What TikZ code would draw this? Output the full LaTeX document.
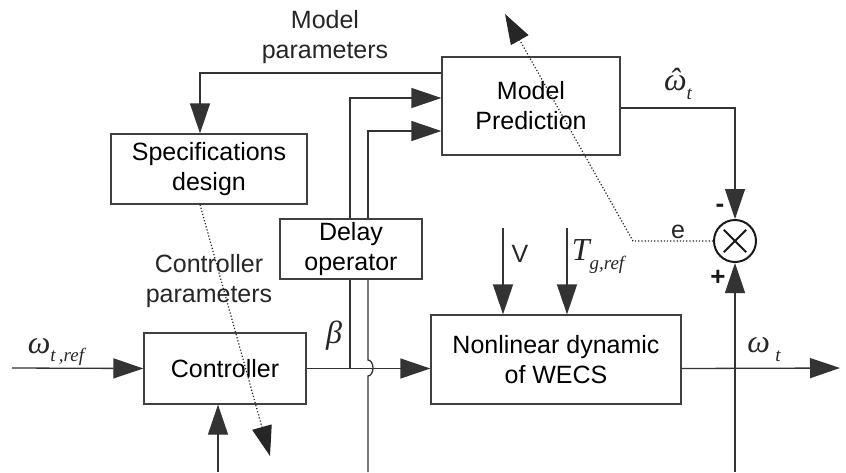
\documentclass[tikz,border=0pt]{standalone}
\usepackage{fontspec}
\setmainfont{Liberation Sans}
\newfontfamily\tms{Liberation Serif}
\usetikzlibrary{arrows.meta,calc}
\newcommand\subtxt[1]{\raisebox{-0.28em}{\fontsize{19}{20}\selectfont #1}}
\begin{document}
\begin{tikzpicture}[x=1pt,y=-1pt,
  line/.style={line width=1.3pt, draw=black!80},
  arr/.style={line, -{Triangle[length=30pt,width=20pt]}},
  dotarr/.style={line width=1.2pt, draw=black!85, dotted, -{Triangle[length=30pt,width=20pt]}},
  blk/.style={draw=black!75, line width=1.3pt, fill=white, rectangle, inner sep=0pt, align=center,
    font=\fontsize{25}{30}\selectfont},
  lbl/.style={inner sep=0pt, align=center, font=\fontsize{25}{30}\selectfont, text=black!85},
  mlbl/.style={inner sep=0pt, font=\tms\itshape\fontsize{32}{34}\selectfont, text=black!85},
  sgn/.style={inner sep=0pt, font=\fontsize{26}{30}\selectfont\bfseries, text=black!90}]
\useasboundingbox (0,0) rectangle (846,472);
\fill[white] (0,0) rectangle (846,472);

% blocks
\node[blk, minimum width=196pt, minimum height=70pt] (spec) at (209,169) {Specifications\\design};
\node[blk, minimum width=178pt, minimum height=98pt] (model) at (531,106) {Model\\Prediction};
\node[blk, minimum width=142pt, minimum height=60pt] (delay) at (351,249) {Delay\\operator};
\node[blk, minimum width=162pt, minimum height=71pt] (ctrl) at (225,368.5) {Controller};
\node[blk, minimum width=250pt, minimum height=89pt] (nl) at (556,359.5) {Nonlinear dynamic\\of WECS};
\node[draw=black!90, line width=2pt, circle, minimum size=42pt, inner sep=0pt] (sum) at (735,241) {};
\draw[line width=2pt, black!90] ($(sum.center)!0.72!(sum.north west)$) -- ($(sum.center)!0.72!(sum.south east)$);
\draw[line width=2pt, black!90] ($(sum.center)!0.72!(sum.north east)$) -- ($(sum.center)!0.72!(sum.south west)$);

% coordinates for free ends
\coordinate (in) at (12,368);
\coordinate (j1) at (350,368);
\coordinate (v2) at (368,472);
\coordinate (fb) at (218,472);
\coordinate (vtop) at (503,228);
\coordinate (ttop) at (567,228);
\coordinate (out) at (840,368);
\coordinate (sb) at (735,472);
\coordinate (ecorner) at (633,241);
\coordinate (etip) at (505,14);
\coordinate (ctip) at (270,456);

% connectors
\draw[arr] (in) -- (ctrl.west);
\draw[arr] (ctrl.east) -- (nl.west |- ctrl.east);
\draw[line] (j1) -- (j1 |- delay.south);
\draw[arr] (j1 |- delay.north) |- ([yshift=8pt]model.west);
\draw[line] (v2) -- (368,376) arc[start angle=-90, end angle=90, x radius=5pt, y radius=8pt] -- (v2 |- delay.south);
\draw[arr] (v2 |- delay.north) |- ([yshift=-25pt]model.west);
\draw[arr] ([yshift=33pt]model.west) -| ([xshift=-9pt]spec.north);
\draw[arr] ([yshift=-2pt]model.east) -| (sum.north);
\draw[arr] (sb) -- (sum.south);
\draw[arr] (nl.east |- ctrl.east) -- (out);
\draw[arr] (fb) -- (fb |- ctrl.south);
\draw[arr] (vtop) -- (vtop |- nl.north);
\draw[arr] (ttop) -- (ttop |- nl.north);
\draw[dotarr] (sum.west) -- (ecorner) -- (etip);
\draw[dotarr] ([xshift=-9pt]spec.south) -- (ctip);

% labels
\node[lbl] (mp) at (325,37) {Model\\parameters};
\node[lbl] (cp) at (209,281) {Controller\\parameters};
\node[mlbl] (wref) at (56,352) {ω\subtxt{t\,,ref}};
\node[mlbl] (beta) at (334,336) {β};
\node[mlbl] (what) at (678,84) {\rlap{\hspace{0.16em}ˆ}ω\subtxt{t}};
\node[mlbl] (wt) at (764,350) {ω\,\subtxt{t}};
\node[lbl] (vl) at (520,254) {V};
\node[mlbl] (tl) at (598,257) {T\subtxt{g,ref}};
\node[lbl] (el) at (678,232) {e};
\node[sgn] (minus) at (720,208) {-};
\node[sgn] (plus) at (718,278) {+};
\end{tikzpicture}
\end{document}
